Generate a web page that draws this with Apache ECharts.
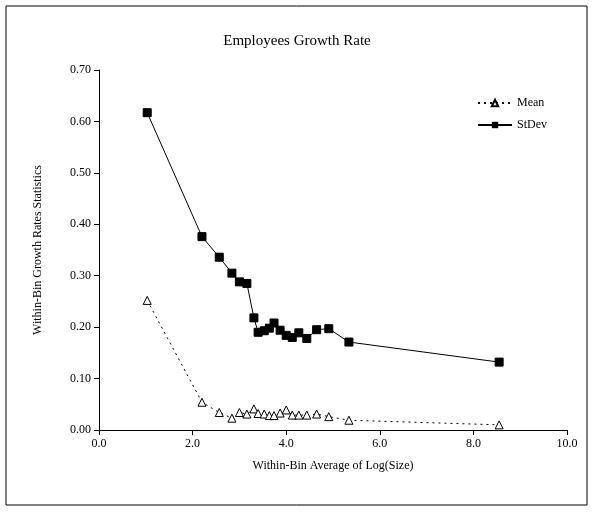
<!DOCTYPE html>
<html><head><meta charset="utf-8">
<script src="https://cdn.jsdelivr.net/npm/echarts@6/dist/echarts.min.js"></script>
<style>html,body{margin:0;background:#fff}#c{width:594px;height:512px}</style>
</head><body><div id="c"></div>
<script>
var xVals = [1.03, 2.20, 2.57, 2.84, 3.00, 3.16, 3.31, 3.40, 3.53, 3.64, 3.74, 3.87, 4.00, 4.13, 4.27, 4.44, 4.65, 4.91, 5.34, 8.55];
var meanVals = [0.252, 0.054, 0.034, 0.023, 0.034, 0.031, 0.041, 0.032, 0.031, 0.028, 0.028, 0.033, 0.039, 0.029, 0.029, 0.029, 0.031, 0.026, 0.019, 0.010];
var stdVals = [0.617, 0.376, 0.336, 0.305, 0.288, 0.285, 0.218, 0.190, 0.193, 0.198, 0.208, 0.194, 0.184, 0.180, 0.189, 0.178, 0.195, 0.197, 0.171, 0.132];

function pairs(ys) { return xVals.map(function (x, i) { return [x, ys[i]]; }); }

var font = 'Liberation Serif';
var chart = echarts.init(document.getElementById('c'));
var option = {
    animation: false,
    textStyle: { fontFamily: font, color: '#000' },
    graphic: [{ type: 'rect', shape: { x: 6, y: 6, width: 581, height: 499 },
        style: { fill: 'none', stroke: '#000', lineWidth: 1 } }],
    title: { text: 'Employees Growth Rate', left: 'center', top: 29,
        textStyle: { fontFamily: font, fontSize: 15, fontWeight: 'normal', color: '#000' } },
    legend: {
        right: 42, top: 92, orient: 'vertical', itemGap: 10, itemWidth: 34, itemHeight: 8,
        textStyle: { fontFamily: font, fontSize: 12, color: '#000' },
        data: ['Mean', 'StDev']
    },
    grid: { left: 99, right: 27, top: 70, bottom: 82 },
    xAxis: {
        type: 'value', min: 0, max: 10, interval: 2,
        name: 'Within-Bin Average of Log(Size)', nameLocation: 'middle', nameGap: 30,
        nameTextStyle: { fontFamily: font, fontSize: 12, color: '#000' },
        axisLine: { lineStyle: { color: '#000' } },
        axisTick: { length: 5, lineStyle: { color: '#000' } },
        axisLabel: { fontFamily: font, fontSize: 12, color: '#000', formatter: function (v) { return v.toFixed(1); } },
        splitLine: { show: false }
    },
    yAxis: {
        type: 'value', min: 0, max: 0.7, interval: 0.1,
        name: 'Within-Bin Growth Rates Statistics', nameLocation: 'middle', nameGap: 55,
        nameTextStyle: { fontFamily: font, fontSize: 12, color: '#000' },
        axisLine: { show: true, lineStyle: { color: '#000' } },
        axisTick: { show: true, length: 5, lineStyle: { color: '#000' } },
        axisLabel: { fontFamily: font, fontSize: 12, color: '#000', formatter: function (v) { return v.toFixed(2); } },
        splitLine: { show: false }
    },
    series: [
        { name: 'Mean', type: 'line', data: pairs(meanVals), symbol: 'triangle', symbolSize: 8,
          itemStyle: { color: '#fff', borderColor: '#000', borderWidth: 1 },
          lineStyle: { color: '#000', width: 1, type: [2, 4] } },
        { name: 'StDev', type: 'line', data: pairs(stdVals), symbol: 'rect', symbolSize: 8,
          itemStyle: { color: '#000', borderColor: '#000' },
          lineStyle: { color: '#000', width: 1 } }
    ]
};
chart.setOption(option);
</script></body></html>
